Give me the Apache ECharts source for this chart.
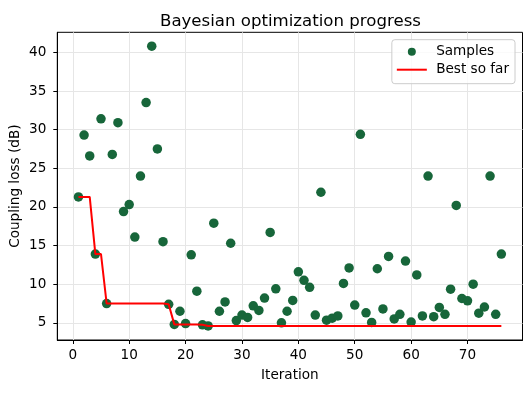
<!DOCTYPE html>
<html>
<head>
<meta charset="utf-8">
<script src="https://cdn.jsdelivr.net/npm/echarts@6/dist/echarts.min.js"></script>
<style>html,body{margin:0;padding:0;background:#fff;}#c{width:531px;height:393px;}</style>
</head>
<body>
<div id="c"></div>
<script>
const iterations = [1,2,3,4,5,6,7,8,9,10,11,12,13,14,15,16,17,18,19,20,21,22,23,24,25,26,27,28,29,30,31,32,33,34,35,36,37,38,39,40,41,42,43,44,45,46,47,48,49,50,51,52,53,54,55,56,57,58,59,60,61,62,63,64,65,66,67,68,69,70,71,72,73,74,75,76];
const samples = [21.3,29.3,26.6,13.9,31.4,7.5,26.8,30.9,19.4,20.3,16.1,24.0,33.5,40.8,27.5,15.5,7.4,4.8,6.5,4.9,13.8,9.1,4.75,4.6,17.9,6.5,7.7,15.3,5.3,6.0,5.7,7.2,6.6,8.2,16.7,9.4,5.0,6.5,7.9,11.6,10.5,9.6,6.0,21.9,5.35,5.6,5.9,10.1,12.1,7.3,29.4,6.3,5.05,12.0,6.8,13.6,5.5,6.1,13.0,5.1,11.2,5.9,24.0,5.8,7.0,6.1,9.35,20.2,8.15,7.85,10.0,6.25,7.05,24.0,6.1,13.9];
const bestSoFar = [21.3,21.3,21.3,13.9,13.9,7.5,7.5,7.5,7.5,7.5,7.5,7.5,7.5,7.5,7.5,7.5,7.4,4.8,4.8,4.8,4.8,4.8,4.75,4.6,4.6,4.6,4.6,4.6,4.6,4.6,4.6,4.6,4.6,4.6,4.6,4.6,4.6,4.6,4.6,4.6,4.6,4.6,4.6,4.6,4.6,4.6,4.6,4.6,4.6,4.6,4.6,4.6,4.6,4.6,4.6,4.6,4.6,4.6,4.6,4.6,4.6,4.6,4.6,4.6,4.6,4.6,4.6,4.6,4.6,4.6,4.6,4.6,4.6,4.6,4.6,4.6];
const xTicks = [0,10,20,30,40,50,60,70];
const yTicks = [5,10,15,20,25,30,35,40];

const font = 'DejaVu Sans';
const fs = 13.6;
const chart = echarts.init(document.getElementById('c'), null, {renderer: 'canvas'});
const axisCommon = {
  axisLine: {show: true, onZero: false, lineStyle: {color: '#000', width: 1}},
  axisTick: {show: true, inside: false, length: 4, lineStyle: {color: '#000', width: 1}},
  splitLine: {show: true, lineStyle: {color: '#e6e6e6', width: 1}},
  nameTextStyle: {fontFamily: font, fontSize: fs, color: '#000'},
  nameMoveOverlap: false
};
chart.setOption({
  animation: false,
  backgroundColor: '#fff',
  title: {
    text: 'Bayesian optimization progress',
    left: 155, top: 8,
    textStyle: {fontFamily: font, fontSize: 16.6, fontWeight: 'normal', color: '#000'}
  },
  grid: {left: 57.3, right: 8.5, top: 32.3, bottom: 53, containLabel: false, outerBoundsMode: 'none',
         show: true, borderColor: '#000', borderWidth: 1, backgroundColor: 'transparent'},
  legend: {
    orient: 'vertical',
    right: 16, top: 39.7,
    padding: [4, 6, 6, 5],
    itemWidth: 30, itemHeight: 8, itemGap: 2,
    backgroundColor: 'rgba(255,255,255,0.8)',
    borderColor: '#cccccc', borderWidth: 1, borderRadius: 3,
    textStyle: {fontFamily: font, fontSize: fs, color: '#000', lineHeight: 16},
    formatter: function (name) { return ' ' + name; },
    data: [
      {name: 'Samples', icon: 'circle'},
      {name: 'Best so far', icon: 'path://M0,0H30V2H0Z'}
    ]
  },
  xAxis: Object.assign({}, axisCommon, {
    type: 'value', min: -2.75, max: 79.75,
    name: 'Iteration', nameLocation: 'middle', nameGap: 28,
    axisTick: Object.assign({}, axisCommon.axisTick, {customValues: xTicks}),
    axisLabel: {customValues: xTicks, margin: 8, fontFamily: font, fontSize: fs, color: '#000'}
  }),
  yAxis: Object.assign({}, axisCommon, {
    type: 'value', min: 2.78, max: 42.6,
    name: 'Coupling loss (dB)', nameLocation: 'middle', nameGap: 35,
    axisTick: Object.assign({}, axisCommon.axisTick, {customValues: yTicks}),
    axisLabel: {customValues: yTicks, margin: 11, fontFamily: font, fontSize: fs, color: '#000'}
  }),
  series: [
    {
      name: 'Samples', type: 'scatter', symbol: 'circle', symbolSize: 9.5,
      itemStyle: {color: '#17663a', opacity: 1},
      data: iterations.map((x, i) => [x, samples[i]]),
      z: 2
    },
    {
      name: 'Best so far', type: 'line', symbol: 'none', showSymbol: false,
      lineStyle: {color: '#ff0000', width: 2}, itemStyle: {color: '#ff0000'},
      data: iterations.map((x, i) => [x, bestSoFar[i]]),
      z: 3
    }
  ]
});
</script>
</body>
</html>
